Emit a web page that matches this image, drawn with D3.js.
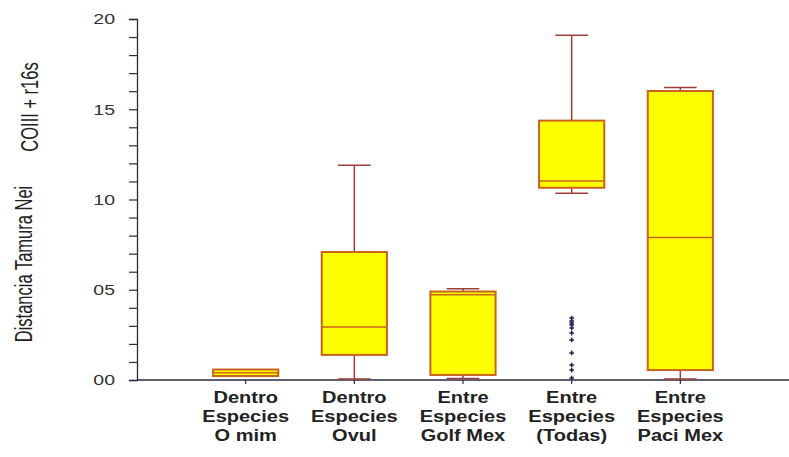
<!DOCTYPE html>
<html>
<head>
<meta charset="utf-8">
<script src="https://cdn.jsdelivr.net/npm/d3@7"></script>
<style>
  body { margin: 0; background: #fff; }
  svg { display: block; font-family: Arial, "Liberation Sans", sans-serif; }
</style>
</head>
<body>
<div id="chart"></div>
<script>
(function(){
	var w = 789, h = 457;
	// datos
	var categories = ["O mim", "Ovul", "Golf Mex", "Todas", "Paci Mex"];
	var labelLines = [
		["Dentro", "Especies", "O mim"],
		["Dentro", "Especies", "Ovul"],
		["Entre", "Especies", "Golf Mex"],
		["Entre", "Especies", "(Todas)"],
		["Entre", "Especies", "Paci Mex"]
	];
	var whiskerLow  = [0.22, 0.05, 0.08, 10.34, 0.05];
	var q1          = [0.22, 1.39, 0.28, 10.65, 0.55];
	var median      = [0.40, 2.94, 4.72, 11.02, 7.90];
	var q3          = [0.58, 7.09, 4.90, 14.37, 16.01];
	var whiskerHigh = [0.58, 11.90, 5.05, 19.10, 16.20];
	var outliersTodas = [3.43, 3.27, 3.16, 3.05, 2.88, 2.60, 2.22, 1.50, 0.83, 0.55, 0.11];
	var yTicks = [0, 5, 10, 15, 20];
	var yTickLabels = ["00", "05", "10", "15", "20"];

	var left = 137, right = 789, top = 19, bottom = 380;
	var stretch = 1.3; // el grafico original esta estirado horizontalmente

	var svg = d3.select("#chart").append("svg")
		.attr("width", w)
		.attr("height", h);

	var x = d3.scalePoint().domain(categories).range([left, right]).padding(1);
	var y = d3.scaleLinear().domain([0, 20]).range([bottom, top]);
	var boxW = x.step() * 0.6;
	var capW = boxW / 2;

	// eje y
	var yAxis = svg.append("g")
		.attr("transform", "translate(" + left + ",0)")
		.call(d3.axisLeft(y).tickValues(d3.range(0, 21, 1)).tickSize(8).tickFormat(""));
	yAxis.select(".domain").attr("stroke", "#2a2a44").attr("stroke-width", 1.3);
	yAxis.selectAll(".tick line").attr("stroke", "#2a2a44").attr("stroke-width", 1.2);

	svg.selectAll("text.ylab")
		.data(yTicks)
		.enter()
		.append("text")
		.attr("class", "ylab")
		.attr("transform", function(d){
			return "translate(" + (left - 22) + "," + y(d) + ") scale(" + stretch + ",1)";
		})
		.attr("text-anchor", "end")
		.attr("dy", "0.35em")
		.attr("font-size", 15)
		.attr("fill", "#333")
		.text(function(d, i){ return yTickLabels[i]; });

	// eje x
	svg.append("line")
		.attr("x1", left).attr("x2", right)
		.attr("y1", bottom).attr("y2", bottom)
		.attr("stroke", "#2a2a44").attr("stroke-width", 1.5);
	svg.selectAll("line.xtick")
		.data(categories)
		.enter()
		.append("line")
		.attr("class", "xtick")
		.attr("x1", function(d){ return x(d); })
		.attr("x2", function(d){ return x(d); })
		.attr("y1", bottom).attr("y2", bottom + 4)
		.attr("stroke", "#2a2a44").attr("stroke-width", 1.2);

	// titulo eje y
	var titles = [["Distancia Tamura Nei", 24, 264], ["COIII + r16s", 30, 107]];
	titles.forEach(function(t){
		svg.append("text")
			.attr("transform", "translate(" + t[1] + "," + t[2] + ") scale(1.45,1) rotate(-90)")
			.attr("text-anchor", "middle")
			.attr("dy", "0.35em")
			.attr("font-size", 16.5)
			.attr("fill", "#222")
			.text(t[0]);
	});

	// cajas
	var data = categories.map(function(c, i){
		return {cat: c, lo: whiskerLow[i], q1: q1[i], med: median[i], q3: q3[i], hi: whiskerHigh[i]};
	});
	var g = svg.selectAll("g.box")
		.data(data)
		.enter()
		.append("g")
		.attr("class", "box");

	var whiskerColor = "#a03c3a", boxColor = "#c8641e";
	g.filter(function(d){ return d.hi > d.q3; }).append("line")
		.attr("x1", function(d){ return x(d.cat); }).attr("x2", function(d){ return x(d.cat); })
		.attr("y1", function(d){ return y(d.q3); }).attr("y2", function(d){ return y(d.hi); })
		.attr("stroke", whiskerColor).attr("stroke-width", 1.5);
	g.filter(function(d){ return d.hi > d.q3; }).append("line")
		.attr("x1", function(d){ return x(d.cat) - capW / 2; }).attr("x2", function(d){ return x(d.cat) + capW / 2; })
		.attr("y1", function(d){ return y(d.hi); }).attr("y2", function(d){ return y(d.hi); })
		.attr("stroke", whiskerColor).attr("stroke-width", 1.5);
	g.filter(function(d){ return d.lo < d.q1; }).append("line")
		.attr("x1", function(d){ return x(d.cat); }).attr("x2", function(d){ return x(d.cat); })
		.attr("y1", function(d){ return y(d.q1); }).attr("y2", function(d){ return y(d.lo); })
		.attr("stroke", whiskerColor).attr("stroke-width", 1.5);
	g.filter(function(d){ return d.lo < d.q1; }).append("line")
		.attr("x1", function(d){ return x(d.cat) - capW / 2; }).attr("x2", function(d){ return x(d.cat) + capW / 2; })
		.attr("y1", function(d){ return y(d.lo); }).attr("y2", function(d){ return y(d.lo); })
		.attr("stroke", whiskerColor).attr("stroke-width", 1.5);

	g.append("rect")
		.attr("x", function(d){ return x(d.cat) - boxW / 2; })
		.attr("width", boxW)
		.attr("y", function(d){ return y(d.q3); })
		.attr("height", function(d){ return y(d.q1) - y(d.q3); })
		.attr("fill", "#ffff00")
		.attr("stroke", boxColor)
		.attr("stroke-width", 2);
	g.append("line")
		.attr("x1", function(d){ return x(d.cat) - boxW / 2; }).attr("x2", function(d){ return x(d.cat) + boxW / 2; })
		.attr("y1", function(d){ return y(d.med); }).attr("y2", function(d){ return y(d.med); })
		.attr("stroke", boxColor).attr("stroke-width", 1.5);

	// valores atipicos
	svg.selectAll("path.out")
		.data(outliersTodas)
		.enter()
		.append("path")
		.attr("class", "out")
		.attr("transform", function(d){ return "translate(" + x("Todas") + "," + y(d) + ")"; })
		.attr("d", d3.symbol().type(d3.symbolCross).size(12))
		.attr("fill", "#22224a");

	// etiquetas de categorias
	var lab = svg.selectAll("text.xlab")
		.data(categories)
		.enter()
		.append("text")
		.attr("class", "xlab")
		.attr("transform", function(d){ return "translate(" + x(d) + "," + (bottom + 23) + ") scale(1.25,1)"; })
		.attr("text-anchor", "middle")
		.attr("font-size", 16)
		.attr("font-weight", "bold")
		.attr("fill", "#222");
	lab.selectAll("tspan")
		.data(function(d, i){ return labelLines[i]; })
		.enter()
		.append("tspan")
		.attr("x", 0)
		.attr("y", function(d, i){ return i * 19; })
		.text(function(d){ return d; });
})();
</script>
</body>
</html>
